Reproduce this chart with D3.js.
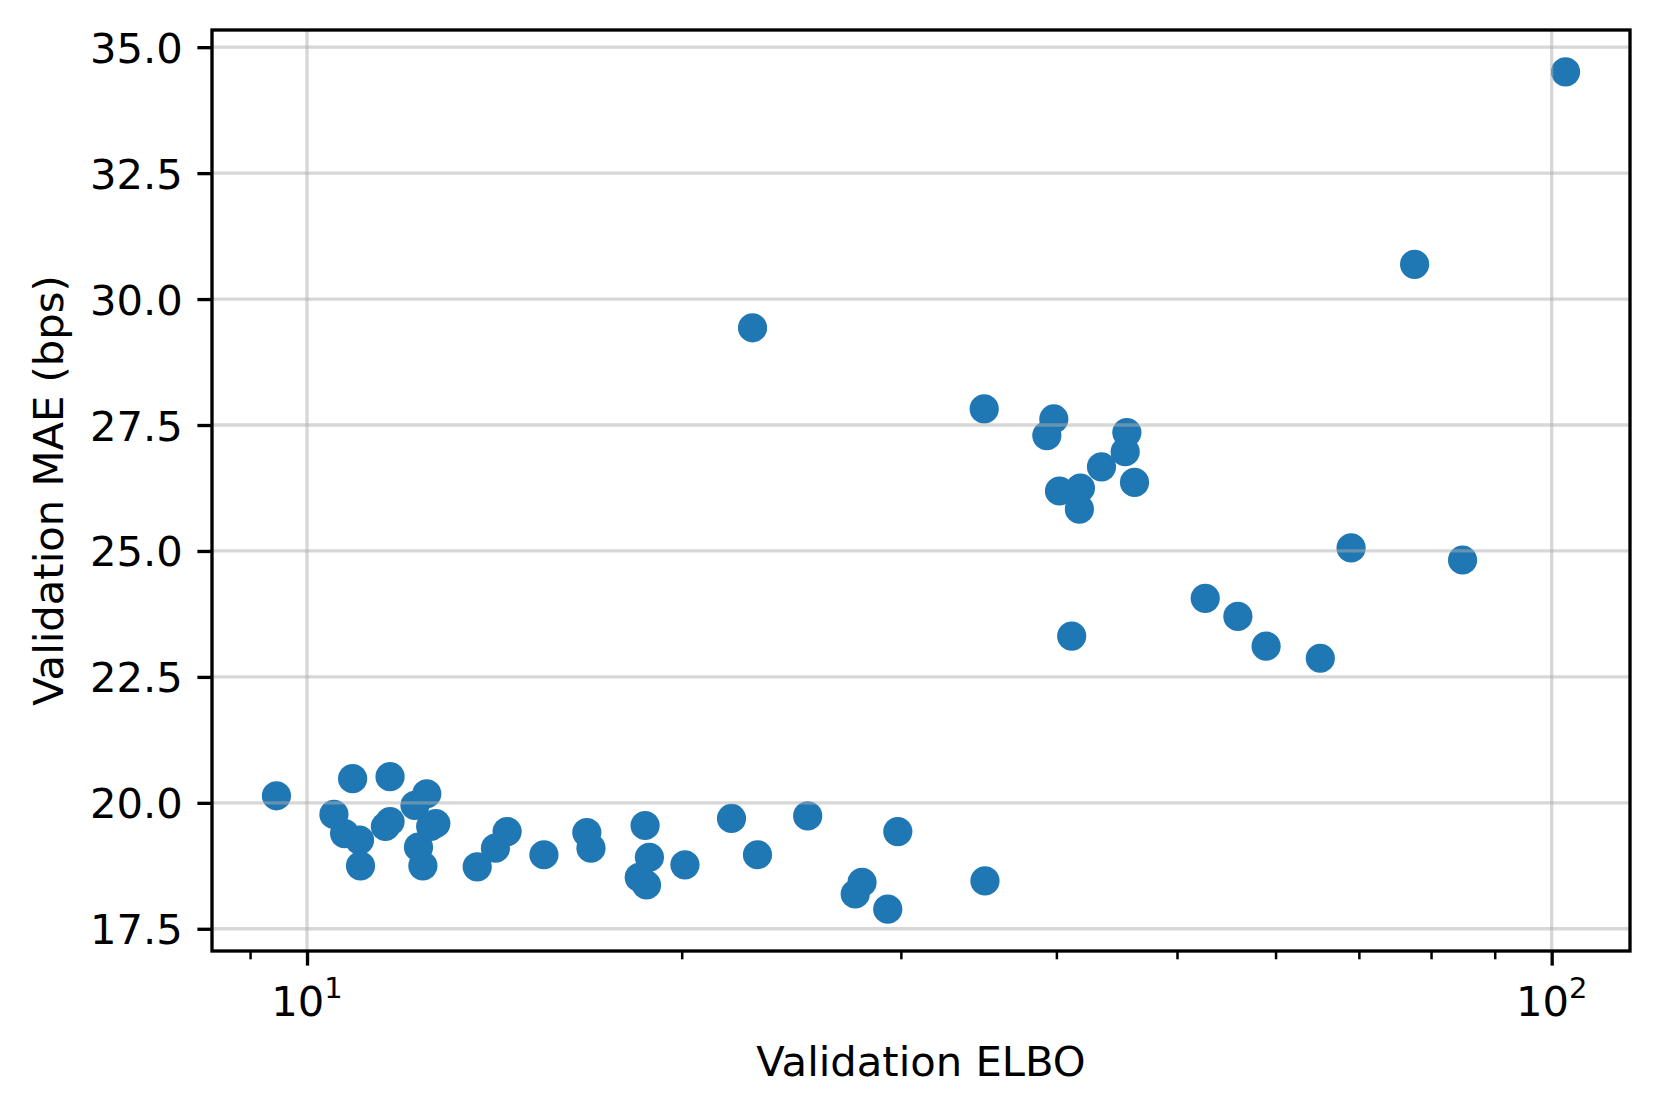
<!DOCTYPE html>
<meta charset="utf-8">
<title>Validation ELBO vs Validation MAE</title>
<style>
  body { margin: 0; background: #fff; }
  text { font-family: "DejaVu Sans", sans-serif; fill: #000; }
</style>
<body>
  <script src="https://d3js.org/d3.v7.min.js"></script>
  <script>
    // data (x is on a log scale)
    const elbo = [9.45, 10.51, 10.88, 10.72, 11.02, 11.04, 11.66, 11.56, 11.66, 12.21,
                  12.48, 12.57, 12.69, 12.29, 12.39, 13.70, 14.17, 14.48, 15.50, 16.78,
                  16.91, 18.69, 18.84, 18.49, 18.74, 20.12, 21.93, 23.01, 25.25, 27.92,
                  27.57, 29.28, 29.83, 35.05, 22.80, 35.00, 39.81, 39.30, 45.57, 45.43,
                  43.48, 46.22, 40.23, 41.82, 41.74, 41.15, 52.68, 55.96, 58.96, 65.18,
                  69.0, 84.8, 77.6, 102.6];
    const mae = [20.14, 19.77, 20.48, 19.39, 19.26, 18.75, 20.52, 19.53, 19.63, 19.95,
                 20.18, 19.53, 19.59, 19.12, 18.75, 18.73, 19.10, 19.43, 18.97, 19.41,
                 19.10, 19.55, 18.92, 18.52, 18.37, 18.77, 19.69, 18.97, 19.74, 18.42,
                 18.19, 17.89, 19.43, 18.45, 29.43, 27.82, 27.62, 27.29, 27.35, 26.97,
                 26.67, 26.36, 26.19, 26.25, 25.83, 23.31, 24.06, 23.70, 23.11, 22.87,
                 25.06, 24.82, 30.69, 34.51];
    const yTicks = [17.5, 20.0, 22.5, 25.0, 27.5, 30.0, 32.5, 35.0];
    const xMajor = [10, 100];
    const xMinor = [9, 20, 30, 40, 50, 60, 70, 80, 90];

    const width = 1661;
    const height = 1116;
    const plotL = 212, plotR = 1630, plotT = 30, plotB = 951;
    const fontSize = 41.7;   // 10pt at 300 dpi
    const lw = 3.33;         // 0.8pt

    const points = elbo.map((d, i) => ({x: d, y: mae[i]}));

    // 5% margins like matplotlib autoscale (log space for x)
    const lx = d3.extent(elbo).map(Math.log10);
    const px = (lx[1] - lx[0]) * 0.05;
    const ey = d3.extent(mae);
    const py = (ey[1] - ey[0]) * 0.05;

    const x = d3.scaleLog()
      .domain([10 ** (lx[0] - px), 10 ** (lx[1] + px)])
      .range([plotL, plotR]);
    const y = d3.scaleLinear()
      .domain([ey[0] - py, ey[1] + py])
      .range([plotB, plotT]);

    const svg = d3.select("body")
      .append("svg")
      .attr("width", width)
      .attr("height", height);

    svg.append("rect").attr("width", width).attr("height", height).attr("fill", "#fff");

    // points (matplotlib puts them under the grid)
    svg.append("g")
      .selectAll("circle")
      .data(points)
      .enter()
      .append("circle")
      .attr("cx", d => x(d.x))
      .attr("cy", d => y(d.y))
      .attr("r", 14.6)
      .attr("fill", "#1f77b4");

    // grid
    const grid = svg.append("g")
      .attr("stroke", "#b0b0b0")
      .attr("stroke-opacity", 0.5)
      .attr("stroke-width", lw);
    grid.selectAll(".gx")
      .data(xMajor)
      .enter()
      .append("line")
      .attr("x1", d => x(d)).attr("x2", d => x(d))
      .attr("y1", plotT).attr("y2", plotB);
    grid.selectAll(".gy")
      .data(yTicks)
      .enter()
      .append("line")
      .attr("x1", plotL).attr("x2", plotR)
      .attr("y1", d => y(d)).attr("y2", d => y(d));

    // x axis: major + minor ticks
    const gx = svg.append("g")
      .attr("transform", `translate(0,${plotB})`)
      .call(d3.axisBottom(x).tickValues(xMajor).tickSize(14.6).tickFormat(""));
    gx.select(".domain").remove();
    gx.selectAll(".tick line").attr("stroke-width", lw);

    const gxm = svg.append("g")
      .attr("transform", `translate(0,${plotB})`)
      .call(d3.axisBottom(x).tickValues(xMinor).tickSize(8.3).tickFormat(""));
    gxm.select(".domain").remove();
    gxm.selectAll(".tick line").attr("stroke-width", 2.5);

    // x tick labels as 10^n
    const xl = svg.append("g")
      .selectAll("text")
      .data(xMajor)
      .enter()
      .append("text")
      .attr("x", d => x(d))
      .attr("y", 1016)
      .attr("text-anchor", "middle")
      .style("font-size", fontSize + "px");
    xl.append("tspan").text("10");
    xl.append("tspan")
      .attr("dy", -18)
      .style("font-size", "29px")
      .text(d => Math.round(Math.log10(d)));

    // y axis
    const gy = svg.append("g")
      .attr("transform", `translate(${plotL},0)`)
      .call(d3.axisLeft(y).tickValues(yTicks).tickSize(14.6).tickPadding(14.6)
        .tickFormat(d3.format(".1f")));
    gy.select(".domain").remove();
    gy.selectAll(".tick line").attr("stroke-width", lw);
    gy.selectAll(".tick text")
      .attr("dy", "0.36em")
      .style("font-family", "'DejaVu Sans', sans-serif")
      .style("font-size", fontSize + "px");

    // frame
    svg.append("rect")
      .attr("x", plotL).attr("y", plotT)
      .attr("width", plotR - plotL).attr("height", plotB - plotT)
      .attr("fill", "none")
      .attr("stroke", "#000")
      .attr("stroke-width", lw);

    // axis labels
    svg.append("text")
      .attr("x", (plotL + plotR) / 2)
      .attr("y", 1076)
      .attr("text-anchor", "middle")
      .style("font-size", fontSize + "px")
      .text("Validation ELBO");

    svg.append("text")
      .attr("transform", `translate(63,${(plotT + plotB) / 2}) rotate(-90)`)
      .attr("text-anchor", "middle")
      .style("font-size", fontSize + "px")
      .text("Validation MAE (bps)");
  </script>
</body>
